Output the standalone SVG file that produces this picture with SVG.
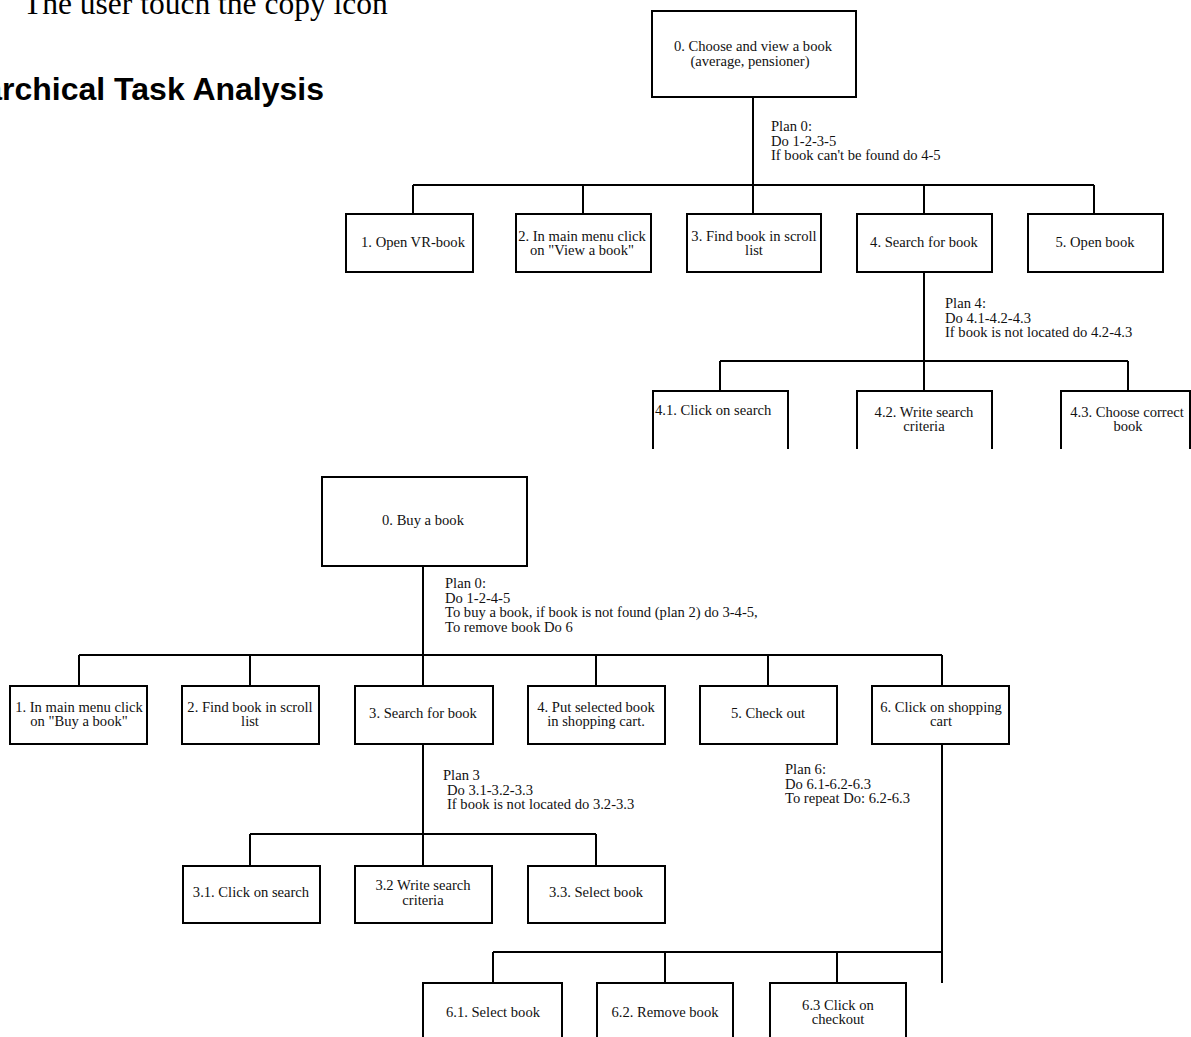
<svg xmlns="http://www.w3.org/2000/svg" width="1191" height="1037" viewBox="0 0 1191 1037">
<style>
.b{fill:#fff;stroke:#000;stroke-width:2}
.o{fill:none;stroke:#000;stroke-width:2}
.c{fill:none;stroke:#000;stroke-width:2}
.t{font-family:"Liberation Serif","Times New Roman",serif;font-size:14.6px;fill:#111}
.m{text-anchor:middle}
</style>
<rect width="1191" height="1037" fill="#fff"/>
<text x="23" y="14" style="font-family:'Liberation Serif',serif;font-size:31.5px;fill:#000">The user touch the copy icon</text>
<text x="324" y="100" style="font-family:'Liberation Sans',Arial,sans-serif;font-size:32px;font-weight:bold;fill:#000;text-anchor:end">Hierarchical Task Analysis</text>

<g id="connectors">
<path class="c" d="M753 97V214M413 185H1094M413 185V214M583 185V214M924 185V214M1094 185V214"/>
<path class="c" d="M924 272V391M720 361H1128M720 361V391M1128 361V391"/>
<path class="c" d="M423 566V686M79 655H942M79 655V686M250 655V686M596 655V686M768 655V686M942 655V686"/>
<path class="c" d="M423 744V866M250 834H596M250 834V866M596 834V866"/>
<path class="c" d="M942 744V983M493 952H942M493 952V983M665 952V983M837 952V983"/>
</g>

<g id="plans">
<text class="t" x="771" y="131">Plan 0:</text>
<text class="t" x="771" y="145.5">Do 1-2-3-5</text>
<text class="t" x="771" y="160">If book can't be found do 4-5</text>
<text class="t" x="945" y="308">Plan 4:</text>
<text class="t" x="945" y="322.5">Do 4.1-4.2-4.3</text>
<text class="t" x="945" y="337">If book is not located do 4.2-4.3</text>
<text class="t" x="445" y="588">Plan 0:</text>
<text class="t" x="445" y="602.5">Do 1-2-4-5</text>
<text class="t" x="445" y="617">To buy a book, if book is not found (plan 2) do 3-4-5,</text>
<text class="t" x="445" y="631.5">To remove book Do 6</text>
<text class="t" x="443" y="780">Plan 3</text>
<text class="t" x="447" y="794.5">Do 3.1-3.2-3.3</text>
<text class="t" x="447" y="808.5">If book is not located do 3.2-3.3</text>
<text class="t" x="785" y="774">Plan 6:</text>
<text class="t" x="785" y="788.5">Do 6.1-6.2-6.3</text>
<text class="t" x="785" y="803">To repeat Do: 6.2-6.3</text>
</g>

<g id="a0"><rect class="b" x="652" y="11" width="204" height="86"/><text class="t m" x="753" y="51">0. Choose and view a book</text><text class="t m" x="750" y="66">(average, pensioner)</text></g>
<g id="a1"><rect class="b" x="346" y="214" width="127" height="58"/><text class="t m" x="413" y="247">1. Open VR-book</text></g>
<g id="a2"><rect class="b" x="516" y="214" width="135" height="58"/><text class="t m" x="582" y="240.5">2. In main menu click</text><text class="t m" x="582" y="255">on "View a book"</text></g>
<g id="a3"><rect class="b" x="687" y="214" width="134" height="58"/><text class="t m" x="754" y="240.5">3. Find book in scroll</text><text class="t m" x="754" y="255">list</text></g>
<g id="a4"><rect class="b" x="857" y="214" width="135" height="58"/><text class="t m" x="924" y="247">4. Search for book</text></g>
<g id="a5"><rect class="b" x="1028" y="214" width="135" height="58"/><text class="t m" x="1095" y="247">5. Open book</text></g>
<g id="a41"><path class="o" d="M653 449V391H788V449"/><text class="t" x="655" y="415">4.1. Click on search</text></g>
<g id="a42"><path class="o" d="M857 449V391H992V449"/><text class="t m" x="924" y="416.5">4.2. Write search</text><text class="t m" x="924" y="431">criteria</text></g>
<g id="a43"><path class="o" d="M1061 449V391H1190V449"/><text class="t m" x="1127" y="416.5">4.3. Choose correct</text><text class="t m" x="1128" y="431">book</text></g>

<g id="b0"><rect class="b" x="322" y="477" width="205" height="89"/><text class="t m" x="423" y="525">0. Buy a book</text></g>
<g id="b1"><rect class="b" x="10" y="686" width="137" height="58"/><text class="t m" x="79" y="711.5">1. In main menu click</text><text class="t m" x="79" y="726">on "Buy a book"</text></g>
<g id="b2"><rect class="b" x="182" y="686" width="137" height="58"/><text class="t m" x="250" y="711.5">2. Find book in scroll</text><text class="t m" x="250" y="726">list</text></g>
<g id="b3"><rect class="b" x="355" y="686" width="138" height="58"/><text class="t m" x="423" y="718">3. Search for book</text></g>
<g id="b4"><rect class="b" x="528" y="686" width="137" height="58"/><text class="t m" x="596" y="711.5">4. Put selected book</text><text class="t m" x="596" y="726">in shopping cart.</text></g>
<g id="b5"><rect class="b" x="700" y="686" width="137" height="58"/><text class="t m" x="768" y="718">5. Check out</text></g>
<g id="b6"><rect class="b" x="872" y="686" width="137" height="58"/><text class="t m" x="941" y="711.5">6. Click on shopping</text><text class="t m" x="941" y="726">cart</text></g>
<g id="b31"><rect class="b" x="183" y="866" width="137" height="57"/><text class="t m" x="251" y="897">3.1. Click on search</text></g>
<g id="b32"><rect class="b" x="355" y="866" width="137" height="57"/><text class="t m" x="423" y="890">3.2 Write search</text><text class="t m" x="423" y="904.5">criteria</text></g>
<g id="b33"><rect class="b" x="528" y="866" width="137" height="57"/><text class="t m" x="596" y="897">3.3. Select book</text></g>
<g id="b61"><path class="o" d="M423 1040V983H562V1040"/><text class="t m" x="493" y="1016.5">6.1. Select book</text></g>
<g id="b62"><path class="o" d="M597 1040V983H733V1040"/><text class="t m" x="665" y="1016.5">6.2. Remove book</text></g>
<g id="b63"><path class="o" d="M770 1040V983H906V1040"/><text class="t m" x="838" y="1009.5">6.3 Click on</text><text class="t m" x="838" y="1024">checkout</text></g>
</svg>
